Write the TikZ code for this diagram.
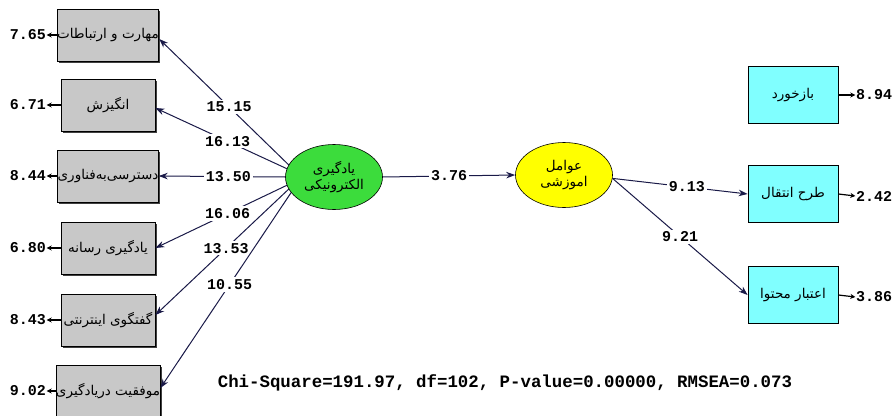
\documentclass[tikz,border=0pt]{standalone}
\usepackage{fontspec}
\usetikzlibrary{arrows.meta,shadows,shapes.geometric}
\TeXXeTstate=1
\newfontfamily\arabicfont[Script=Arabic]{DejaVu Sans}
\newfontfamily\monob{Liberation Mono}
\newcommand\fa[1]{{\arabicfont\beginR #1\endR}}
\definecolor{boxgray}{HTML}{C8C8C8}
\definecolor{boxcyan}{HTML}{80FFFF}
\definecolor{ellgreen}{HTML}{3CDC3C}
\definecolor{ellyellow}{HTML}{FFFF00}
\definecolor{linecol}{HTML}{1A1A48}
\begin{document}
\begin{tikzpicture}[x=1pt,y=-1pt,
  obsl/.style={draw=black, line width=0.8pt, fill=boxgray, minimum width=94pt, minimum height=52pt, inner sep=0pt,
     drop shadow={shadow xshift=1.6pt, shadow yshift=-1.6pt, fill=black!75, opacity=1}, font=\fontsize{13.5}{15}\selectfont},
  obsr/.style={draw=black, line width=0.8pt, fill=boxcyan, minimum width=90pt, minimum height=57pt, inner sep=0pt, font=\fontsize{13.5}{15}\selectfont},
  lat/.style={ellipse, draw=black, line width=0.6pt, minimum width=97pt, minimum height=65pt, inner sep=0pt, align=center, font=\fontsize{13.5}{15.5}\selectfont},
  num/.style={font=\monob\bfseries\fontsize{15}{17}\selectfont, inner sep=0.5pt},
  lbl/.style={num, fill=white, inner sep=2pt},
  pth/.style={draw=linecol, line width=1pt, -{Stealth[length=9pt,width=6.5pt]}},
  err/.style={draw=black, line width=1.2pt, -{Stealth[length=5pt,width=5pt]}}
]
\useasboundingbox[fill=white] (0,0) rectangle (896,415);
% left observed
\node[obsl] (b1) at (108,35) {\fa{مهارت و ارتباطات}};
\node[obsl] (b2) at (108,105) {\fa{انگیزش}};
\node[obsl] (b3) at (108,176) {\fa{دسترسی‌به‌فناوری}};
\node[obsl] (b4) at (108,248) {\fa{یادگیری رسانه}};
\node[obsl] (b5) at (108,320) {\fa{گفتگوی اینترنتی}};
\node[obsl] (b6) at (108,391) {\fa{موفقیت دریادگیری}};
% left errors
\node[num] (e1) at (28,35) {7.65};
\node[num] (e2) at (28,105) {6.71};
\node[num] (e3) at (28,176) {8.44};
\node[num] (e4) at (28,248) {6.80};
\node[num] (e5) at (28,320) {8.43};
\node[num] (e6) at (28,391) {9.02};
\foreach \i in {1,...,6}{\draw[err] (b\i.west) -- (e\i.east);}
% latent
\node[lat, fill=ellgreen] (g) at (334,177) {\fa{یادگیری}\\\fa{الکترونیکی}};
\node[lat, fill=ellyellow] (y) at (564,175) {\fa{عوامل}\\\fa{اموزشی}};
% right observed
\node[obsr] (r1) at (793,95) {\fa{بازخورد}};
\node[obsr] (r2) at (793,194) {\fa{طرح انتقال}};
\node[obsr] (r3) at (793,295) {\fa{اعتبار محتوا}};
\node[num] (f1) at (874,95) {8.94};
\node[num] (f2) at (874,196) {2.42};
\node[num] (f3) at (874,297) {3.86};
\foreach \i in {1,2,3}{\draw[err] (r\i.east) -- (f\i.west);}
% paths from green
\draw[pth] (g.165) -- node[lbl, pos=0.46] {15.15} ([yshift=-4pt]b1.east);
\draw[pth] (g.170) -- node[lbl, pos=0.45] {16.13} ([yshift=-3pt]b2.east);
\draw[pth] (g.180) -- node[lbl, pos=0.45] {13.50} (b3.east);
\draw[pth] (g.190) -- node[lbl, pos=0.45] {16.06} (b4.east);
\draw[pth] (g.195) -- node[lbl, pos=0.47] {13.53} ([yshift=5pt]b5.east);
\draw[pth] (g.200) -- node[lbl, pos=0.47] {10.55} ([yshift=3pt]b6.east);
% green to yellow
\draw[pth] (g.east) -- node[lbl, pos=0.5] {3.76} (y.west);
% yellow to right
\coordinate (ys) at (y.-4);
\draw[pth] (ys) -- node[lbl, pos=0.55] {9.13} (r2.west);
\draw[pth] (ys) -- node[lbl, pos=0.5] {9.21} (r3.west);
% fit statistics
\node[font=\monob\bfseries\fontsize{17.4}{19}\selectfont] (fit) at (505,383) {Chi-Square=191.97, df=102, P-value=0.00000, RMSEA=0.073};
\end{tikzpicture}
\end{document}
